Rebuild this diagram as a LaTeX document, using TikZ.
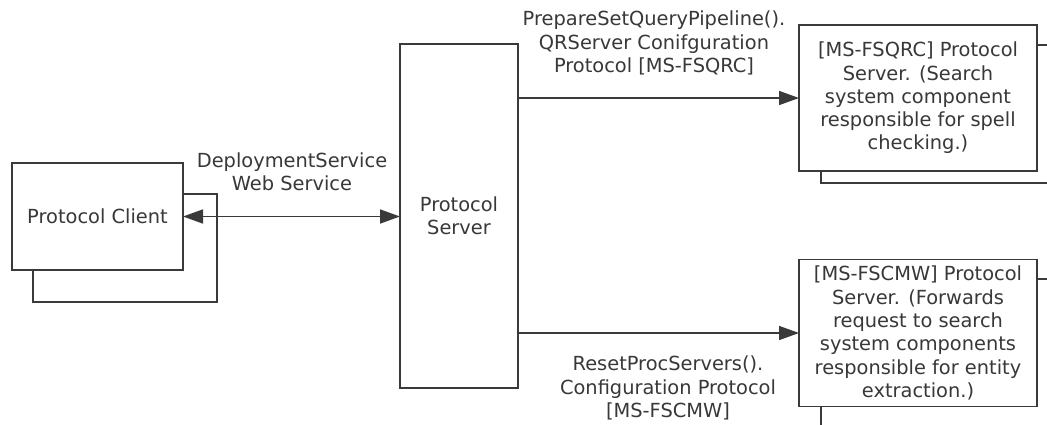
\documentclass[tikz,border=0pt]{standalone}
\usepackage{fontspec}
\setmainfont{DejaVu Sans}
\usetikzlibrary{arrows.meta}
\definecolor{linec}{HTML}{3A3A3A}
\definecolor{textc}{HTML}{383838}
\tikzset{
  box/.style={draw=linec, line width=1.8pt, fill=white, inner sep=0pt, outer sep=0pt},
  txt/.style={text=textc, align=center, font=\fontsize{19.4}{23.3}\selectfont, inner sep=0pt},
  conn/.style={draw=linec, line width=1.6pt},
  tip/.style={-{Triangle[length=20pt,width=14pt]}},
  tips/.style={{Triangle[length=20pt,width=14pt]}-{Triangle[length=20pt,width=14pt]}}
}
\begin{document}
\begin{tikzpicture}[x=1pt,y=-1pt]
\useasboundingbox (0,0) rectangle (1047,424);
\clip (0,0) rectangle (1047,424);
\fill[white] (0,0) rectangle (1047,424);
% back boxes
\node[box, minimum width=184pt, minimum height=108pt] (clientback) at (125,248) {};
\node[box, minimum width=240pt, minimum height=138pt] (fsqrcback) at (941,114) {};
\node[box, minimum width=240pt, minimum height=160pt] (fscmwback) at (941,359) {};
% front boxes
\node[box, minimum width=171pt, minimum height=107pt, txt] (client) at (97.5,216.5) {Protocol Client};
\node[box, minimum width=118pt, minimum height=344pt, txt] (server) at (459,216) {Protocol\\Server};
\node[box, minimum width=238pt, minimum height=146pt, txt] (fsqrc) at (918,98) {{[MS-FSQRC]} Protocol\\Server. (Search\\system component\\responsible for spell\\checking.)};
\node[box, minimum width=238pt, minimum height=147pt, txt] (fscmw) at (918,333) {{[MS-FSCMW]} Protocol\\Server. (Forwards\\request to search\\system components\\responsible for entity\\extraction.)};
% connectors
\draw[conn, tips] (client.east) -- (client.east -| server.west);
\draw[conn, tip] (server.east |- fsqrc.west) -- (fsqrc.west);
\draw[conn, tip] (server.east |- fscmw.west) -- (fscmw.west);
% labels
\node[txt] (lbldeploy) at (292,172) {DeploymentService\\Web Service};
\node[txt] (lblfsqrc) at (654,43) {PrepareSetQueryPipeline().\\QRServer Conifguration\\Protocol {[MS-FSQRC]}};
\node[txt] (lblfscmw) at (668,388) {ResetProcServers().\\Configuration Protocol\\{[MS-FSCMW]}};
\end{tikzpicture}
\end{document}
